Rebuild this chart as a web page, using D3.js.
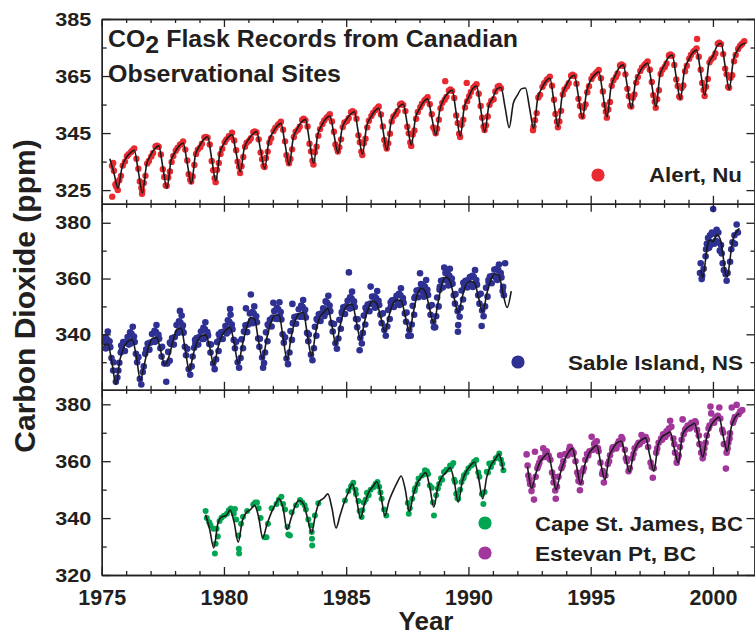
<!DOCTYPE html>
<html><head><meta charset="utf-8">
<script src="https://cdn.jsdelivr.net/npm/d3@7"></script>
<style>
body{margin:0;background:#fff}
text{font-family:"Liberation Sans",Arial,sans-serif;font-weight:bold;fill:#231f20}
</style>
</head><body>
<svg id="c" width="755" height="635"></svg>
<script>
// ---------------- data ----------------
const xMajorYears = [1975, 1980, 1985, 1990, 1995, 2000];
const xMinorYears = [1976,1977,1978,1979,1981,1982,1983,1984,1986,1987,1988,1989,1991,1992,1993,1994,1996,1997,1998,1999,2001];
const yTicksAlert = [325, 345, 365, 385];
const yMinorAlert = [335, 355, 375];
const yTicksSable = [340, 360, 380];
const yMinorSable = [330, 350, 370];
const yTicksPacific = [320, 340, 360, 380];
const yMinorPacific = [330, 350, 370];

// smoothed fits: first sample year, step (years), values (ppm)
const alertFitStart = 1975.333, alertFitStep = 1/6;
const alertFit = [
336.0,331.0,325.7,333.0,
336.4,338.0,339.0,331.5,324.0,333.9,
337.2,339.5,340.5,333.1,325.7,335.2,
338.3,340.5,341.5,334.4,327.3,337.3,
340.4,342.7,343.7,336.0,328.3,338.0,
341.3,343.5,344.5,338.0,331.4,339.8,
342.7,344.5,345.5,339.0,332.6,342.0,
345.2,347.4,348.4,341.1,333.8,343.2,
346.6,348.8,349.8,342.1,334.4,344.4,
347.7,350.0,351.0,344.5,337.9,346.7,
349.6,351.5,352.5,345.0,337.6,347.3,
350.5,352.7,353.7,346.3,339.0,348.7,
352.0,354.2,355.2,348.0,340.8,350.3,
353.6,356.0,357.0,350.6,344.3,353.3,
357.1,359.1,360.1,352.0,343.9,354.3,
357.4,360.5,361.5,353.5,345.5,354.5,
357.3,360.5,361.0,354.0,346.9,355.4,
358.2,360.5,360.8,353.8,346.6,357.2,
360.7,363.2,364.2,355.7,347.2,358.1,
361.7,364.3,365.3,357.8,350.2,359.6,
363.5,365.5,366.5,358.6,350.7,361.2,
365.1,367.9,368.9,361.3,353.7,363.0,
366.3,368.5,369.5,361.9,354.2,365.3,
368.6,371.4,372.4,364.6,356.9,367.0,
370.6,373.1,374.1,366.2,358.3,369.4,
372.0,375.5,376.5,368.4,360.3,370.5,
374.0,376.0,376.5];

const sableFitStart = 1975.083, sableFitStep = 1/6;
const sableFit = [
336.0,336.5,330.0,322.0,331.0,335.5,
337.5,338.2,332.0,323.5,329.5,335.5,
338.6,338.8,334.0,329.0,332.0,337.5,
341.8,342.2,334.5,327.0,333.0,337.5,
339.5,339.8,335.5,329.0,335.0,339.5,
341.5,342.5,337.0,329.5,336.0,342.0,
346.0,345.5,337.5,331.2,338.5,344.0,
346.8,347.0,339.0,330.8,339.0,345.0,
347.5,347.8,339.5,332.2,340.5,346.0,
347.8,349.3,343.0,336.3,343.0,348.5,
350.5,350.8,344.5,338.2,344.5,349.5,
352.0,351.0,346.0,341.0,346.5,351.0,
352.3,352.0,346.5,341.0,348.0,354.5,
356.5,355.0,349.0,344.0,351.0,358.0,
360.5,359.0,353.0,347.8,353.5,358.0,
359.0,358.5,353.0,348.0,354.5,359.5,
361.7,361.0,354.5,349.6,355.5];
const sableFit2Start = 1999.5, sableFit2Step = 1/12;
const sableFit2 = [363.0,360.4,364.5,370.5,373.5,373.8,373.2,374.5,375.8,375.0,373.0,368.0,362.5,360.6,364.5,370.5,374.4,376.0,377.2,378.0];

const capeFitStart = 1979.25, capeFitStep = 1/6;
const capeFit = [
341.2,336.0,329.5,338.0,340.5,
340.8,342.8,338.5,331.5,339.0,342.0,
343.0,344.5,340.5,333.0,337.5,341.5,
344.5,346.8,343.5,336.0,340.0,344.5,
346.2,345.0,340.0,334.8,341.5,346.0,
347.0,348.5,343.5,336.5,341.0,345.5,
349.0,352.0,347.0,340.0,345.0,349.0,
351.0,352.8,348.0,340.8,346.0,349.5,
352.5,354.8,350.0,342.3,348.5,352.5,
354.5,356.0,351.0,343.8,351.0,354.5,
356.0,357.8,353.0,345.6,353.0,356.5,
358.5,359.7,354.0,346.8,354.5,358.5,
360.5,362.5,357.0];

const estevanFitStart = 1992.417, estevanFitStep = 1/6;
const estevanFit = [
358.0,350.5,355.5,359.5,
361.5,362.8,357.0,350.0,355.5,360.0,
363.0,364.5,358.5,352.0,358.5,362.5,
364.5,365.5,359.0,353.5,361.5,364.5,
366.5,367.0,362.0,356.2,362.5,366.0,
367.5,368.2,362.0,356.5,365.5,368.5,
369.5,370.3,364.5,359.5,369.0,371.5,
372.5,373.3,367.5,361.5,368.5,372.5,
374.5,375.5,369.0,363.5,372.0,375.5,
376.8];

// flask observations [decimal year, ppm]
const alertObs = [
[1975.42,333.5],[1975.43,322.7],[1975.47,334.5],[1975.5,331.8],[1975.56,327.0],[1975.6,326.2],[1975.62,327.5],[1975.66,325.0],[1975.72,328.5],[1975.79,330.0],[1975.86,333.6],[1975.95,335.0],
[1976.03,336.9],[1976.1,337.6],[1976.2,338.4],[1976.26,338.9],[1976.33,339.6],[1976.42,336.0],[1976.5,332.5],[1976.56,328.0],[1976.62,325.8],[1976.65,323.7],[1976.66,324.8],[1976.72,327.5],[1976.79,330.0],[1976.86,334.3],[1976.93,335.2],
[1977.03,336.8],[1977.1,338.0],[1977.2,340.3],[1977.26,340.6],[1977.33,340.2],[1977.42,337.5],[1977.5,332.3],[1977.56,329.6],[1977.62,326.6],[1977.66,326.5],[1977.72,329.4],[1977.79,331.5],[1977.86,334.9],[1977.93,337.0],
[1978.03,338.8],[1978.1,339.8],[1978.2,340.9],[1978.26,341.2],[1978.33,342.1],[1978.42,339.2],[1978.5,335.4],[1978.56,330.6],[1978.62,328.6],[1978.66,328.0],[1978.72,329.8],[1978.79,333.8],[1978.86,337.7],[1978.93,339.2],
[1979.03,340.0],[1979.1,341.3],[1979.2,343.5],[1979.26,343.6],[1979.33,343.4],[1979.42,341.0],[1979.5,335.2],[1979.56,332.0],[1979.62,329.2],[1979.66,327.8],[1979.72,332.1],[1979.79,334.5],[1979.86,337.7],[1979.93,339.5],
[1980.03,341.8],[1980.1,342.8],[1980.2,343.9],[1980.26,343.7],[1980.33,345.1],[1980.42,342.4],[1980.5,339.0],[1980.56,335.0],[1980.62,333.2],[1980.66,331.0],[1980.72,333.4],[1980.79,336.6],[1980.86,340.2],[1980.93,341.6],
[1981.03,342.3],[1981.1,343.2],[1981.2,345.3],[1981.26,345.6],[1981.33,345.2],[1981.42,342.8],[1981.5,338.2],[1981.56,335.8],[1981.62,333.5],[1981.66,333.1],[1981.72,336.3],[1981.79,338.5],[1981.86,341.7],[1981.93,343.2],
[1982.03,345.7],[1982.1,346.8],[1982.2,347.8],[1982.26,348.3],[1982.33,349.0],[1982.42,346.2],[1982.5,342.1],[1982.56,337.2],[1982.62,335.6],[1982.66,334.4],[1982.72,335.9],[1982.79,339.3],[1982.86,343.6],[1982.93,345.5],
[1983.03,346.2],[1983.1,347.2],[1983.2,349.6],[1983.26,350.0],[1983.33,349.5],[1983.42,347.3],[1983.5,341.3],[1983.56,338.6],[1983.62,335.3],[1983.66,334.0],[1983.72,338.3],[1983.79,340.2],[1983.86,344.1],[1983.93,346.4],
[1984.03,348.2],[1984.1,349.4],[1984.2,350.4],[1984.26,350.8],[1984.33,351.6],[1984.42,349.1],[1984.5,345.5],[1984.56,341.0],[1984.62,339.7],[1984.66,338.5],[1984.72,340.0],[1984.79,342.8],[1984.86,347.1],[1984.93,348.7],
[1985.03,349.2],[1985.1,350.2],[1985.2,352.3],[1985.26,352.7],[1985.33,352.2],[1985.42,350.0],[1985.5,344.2],[1985.56,341.8],[1985.62,338.5],[1985.66,337.3],[1985.72,341.4],[1985.79,343.0],[1985.86,347.0],[1985.93,349.3],
[1986.03,351.0],[1986.1,352.1],[1986.2,353.1],[1986.26,353.6],[1986.33,354.3],[1986.42,351.5],[1986.5,347.3],[1986.56,342.6],[1986.62,340.8],[1986.66,339.6],[1986.72,341.4],[1986.79,344.8],[1986.86,349.1],[1986.93,350.8],
[1987.03,351.6],[1987.1,352.7],[1987.2,355.0],[1987.26,355.4],[1987.33,354.9],[1987.42,352.7],[1987.5,347.2],[1987.56,344.9],[1987.62,341.7],[1987.66,340.5],[1987.72,344.5],[1987.79,345.9],[1987.86,350.0],[1987.93,352.4],
[1988.03,354.1],[1988.1,355.3],[1988.2,356.4],[1988.26,356.9],[1988.33,357.6],[1988.42,355.1],[1988.5,351.6],[1988.56,347.0],[1988.62,346.1],[1988.66,344.9],[1988.72,346.5],[1988.79,349.7],[1988.86,353.7],[1988.93,355.6],
[1989.03,356.7],[1989.05,363.2],[1989.1,357.7],[1989.2,359.9],[1989.26,360.3],[1989.33,359.8],[1989.42,357.3],[1989.5,351.2],[1989.56,348.5],[1989.62,344.8],[1989.66,343.6],[1989.72,347.9],[1989.79,349.7],[1989.86,354.0],[1989.93,362.6],[1989.95,356.2],
[1990.03,357.9],[1990.1,359.4],[1990.2,360.9],[1990.26,361.4],[1990.33,362.1],[1990.42,358.8],[1990.5,354.5],[1990.56,350.4],[1990.62,347.3],[1990.66,346.1],[1990.72,347.7],[1990.79,350.8],[1990.86,354.9],[1990.93,356.3],
[1991.03,356.9],[1991.1,359.6],[1991.2,361.3],[1991.26,361.5],[1991.33,360.7],
[1992.64,346.0],[1992.66,347.2],[1992.72,349.5],[1992.79,352.0],[1992.86,357.5],[1992.93,358.4],
[1993.03,361.2],[1993.1,362.5],[1993.2,363.6],[1993.26,364.1],[1993.33,364.8],[1993.42,361.6],[1993.5,356.7],[1993.56,351.7],[1993.62,349.0],[1993.66,347.0],[1993.72,349.1],[1993.79,352.8],[1993.86,358.5],[1993.93,360.3],
[1994.03,361.3],[1994.1,362.5],[1994.2,365.1],[1994.26,365.5],[1994.33,365.0],[1994.42,362.3],[1994.5,357.0],[1994.56,354.5],[1994.62,351.1],[1994.66,350.8],[1994.72,353.9],[1994.79,355.0],[1994.86,359.3],[1994.93,361.4],
[1995.03,364.0],[1995.1,365.1],[1995.2,365.9],[1995.26,366.4],[1995.33,367.1],[1995.42,364.2],[1995.5,359.6],[1995.56,354.9],[1995.62,352.5],[1995.66,350.4],[1995.72,353.3],[1995.79,355.9],[1995.86,361.6],[1995.93,363.5],
[1996.03,364.7],[1996.1,365.9],[1996.2,368.7],[1996.26,369.1],[1996.33,368.6],[1996.42,365.6],[1996.5,360.5],[1996.56,357.9],[1996.62,354.6],[1996.66,354.3],[1996.72,357.4],[1996.79,358.5],[1996.86,362.7],[1996.93,364.7],
[1997.03,366.8],[1997.1,368.0],[1997.2,368.9],[1997.26,369.4],[1997.33,370.1],[1997.42,367.2],[1997.5,362.9],[1997.56,358.3],[1997.62,356.0],[1997.66,353.9],[1997.72,356.9],[1997.79,360.0],[1997.86,365.7],[1997.93,367.2],
[1998.03,368.2],[1998.1,369.4],[1998.2,372.2],[1998.26,372.6],[1998.33,372.1],[1998.42,368.9],[1998.5,363.8],[1998.56,361.5],[1998.62,357.8],[1998.66,357.5],[1998.72,360.8],[1998.79,361.7],[1998.86,366.7],[1998.93,368.6],
[1999.03,371.1],[1999.1,372.4],[1999.2,373.5],[1999.26,374.0],[1999.33,374.7],[1999.35,378.0],[1999.42,371.8],[1999.5,367.2],[1999.56,362.6],[1999.62,360.1],[1999.66,358.0],[1999.72,361.2],[1999.79,364.0],[1999.86,369.8],[1999.93,370.9],
[2000.03,371.6],[2000.1,372.9],[2000.2,376.3],[2000.26,376.7],[2000.33,376.2],[2000.42,372.7],[2000.5,367.6],[2000.56,365.6],[2000.62,361.2],[2000.66,360.9],[2000.72,364.4],[2000.79,365.3],[2000.86,370.2],[2000.93,372.4],
[2001.03,374.5],[2001.1,375.5],[2001.16,376.0],[2001.2,376.4],[2001.28,377.2]];

const sableObs = [
[1975.1,337.3],[1975.16,339.0],[1975.16,335.0],[1975.18,335.0],[1975.22,338.2],[1975.25,341.0],[1975.3,335.5],[1975.32,337.5],[1975.35,335.4],[1975.4,331.5],[1975.47,327.0],[1975.48,330.0],[1975.58,323.0],[1975.64,324.5],[1975.68,327.0],[1975.72,329.8],[1975.78,333.5],[1975.8,336.0],[1975.83,334.5],[1975.88,337.2],[1975.95,334.0],[1975.99,337.0],
[1976.06,339.0],[1976.11,336.3],[1976.16,340.7],[1976.18,336.7],[1976.22,340.2],[1976.27,342.7],[1976.28,337.7],[1976.32,339.2],[1976.35,337.2],[1976.4,333.0],[1976.45,330.0],[1976.5,331.8],[1976.56,324.0],[1976.62,322.0],[1976.68,326.5],[1976.72,328.5],[1976.78,333.0],[1976.82,334.5],[1976.83,334.5],[1976.88,336.7],[1976.95,334.5],[1976.99,337.0],
[1977.06,340.1],[1977.11,337.4],[1977.16,341.3],[1977.18,337.3],[1977.22,340.8],[1977.24,343.3],[1977.28,338.3],[1977.32,339.8],[1977.35,338.4],[1977.4,335.0],[1977.45,332.0],[1977.47,335.5],[1977.56,329.5],[1977.64,323.0],[1977.68,329.5],[1977.72,333.7],[1977.78,330.5],[1977.79,337.0],[1977.83,336.5],[1977.88,338.7],[1977.95,336.3],[1977.99,339.0],
[1978.06,343.3],[1978.11,340.6],[1978.16,344.7],[1978.18,340.7],[1978.2,348.4],[1978.22,344.2],[1978.27,346.7],[1978.28,341.7],[1978.32,343.2],[1978.35,340.6],[1978.4,335.5],[1978.45,332.5],[1978.5,334.8],[1978.56,327.5],[1978.62,325.5],[1978.68,328.5],[1978.72,332.0],[1978.78,335.2],[1978.82,338.0],[1978.83,336.5],[1978.88,338.7],[1978.95,336.3],[1978.99,339.0],
[1979.06,341.0],[1979.11,338.3],[1979.16,342.3],[1979.18,338.3],[1979.22,341.8],[1979.24,344.3],[1979.28,339.3],[1979.32,340.8],[1979.35,339.6],[1979.4,336.5],[1979.45,333.5],[1979.47,336.3],[1979.56,329.5],[1979.62,327.5],[1979.68,331.0],[1979.72,337.2],[1979.78,334.0],[1979.79,340.0],[1979.83,338.5],[1979.88,340.7],[1979.95,338.3],[1979.99,341.0],
[1980.06,343.0],[1980.11,340.3],[1980.16,345.0],[1980.18,341.0],[1980.22,344.5],[1980.25,349.1],[1980.27,347.0],[1980.28,342.0],[1980.32,343.5],[1980.35,341.8],[1980.4,338.0],[1980.45,335.0],[1980.5,337.3],[1980.56,330.0],[1980.62,328.0],[1980.68,331.5],[1980.72,338.2],[1980.78,335.0],[1980.82,341.0],[1980.83,341.0],[1980.88,343.2],[1980.9,349.3],[1980.95,340.8],[1980.99,343.5],
[1981.06,347.5],[1981.1,354.3],[1981.11,344.8],[1981.16,348.0],[1981.18,344.0],[1981.22,347.5],[1981.24,350.0],[1981.28,345.0],[1981.32,346.5],[1981.35,344.3],[1981.4,338.5],[1981.45,335.5],[1981.47,338.4],[1981.56,331.7],[1981.6,328.0],[1981.64,329.7],[1981.68,333.5],[1981.72,340.7],[1981.78,337.5],[1981.79,343.5],[1981.83,343.0],[1981.88,345.2],[1981.95,342.8],[1981.99,346.0],
[1982.02,351.3],[1982.06,348.3],[1982.11,345.6],[1982.16,349.5],[1982.18,345.5],[1982.22,349.0],[1982.27,351.5],[1982.28,346.5],[1982.32,348.0],[1982.35,345.3],[1982.4,340.0],[1982.45,337.0],[1982.5,338.9],[1982.56,331.3],[1982.62,329.3],[1982.68,333.5],[1982.72,341.2],[1982.78,338.0],[1982.8,350.9],[1982.82,344.0],[1982.83,344.0],[1982.88,346.2],[1982.95,343.8],[1982.99,346.5],
[1983.06,349.0],[1983.11,346.3],[1983.16,350.3],[1983.18,346.3],[1983.22,349.8],[1983.24,352.3],[1983.28,347.3],[1983.32,348.8],[1983.35,346.0],[1983.4,340.5],[1983.45,337.5],[1983.47,339.9],[1983.56,332.7],[1983.62,330.7],[1983.68,335.0],[1983.72,342.7],[1983.78,339.5],[1983.79,345.5],[1983.83,345.0],[1983.88,347.2],[1983.95,344.8],[1983.99,347.5],
[1984.06,349.3],[1984.11,346.6],[1984.16,351.8],[1984.18,347.8],[1984.22,351.3],[1984.27,353.8],[1984.28,348.8],[1984.32,350.3],[1984.35,348.3],[1984.4,344.0],[1984.45,341.0],[1984.5,343.7],[1984.56,336.8],[1984.62,334.8],[1984.68,338.5],[1984.72,345.2],[1984.78,342.0],[1984.82,348.0],[1984.83,347.5],[1984.88,349.7],[1984.95,347.3],[1984.99,350.0],
[1985.06,352.0],[1985.11,362.2],[1985.13,349.3],[1985.16,353.3],[1985.18,349.3],[1985.22,352.8],[1985.24,355.3],[1985.28,350.3],[1985.32,351.8],[1985.35,349.8],[1985.4,345.5],[1985.45,342.5],[1985.47,345.4],[1985.55,334.3],[1985.58,338.7],[1985.64,336.7],[1985.68,340.5],[1985.72,346.7],[1985.78,343.5],[1985.79,349.5],[1985.83,348.5],[1985.88,350.7],[1985.95,348.3],[1985.99,351.0],
[1986.0,357.1],[1986.06,353.5],[1986.11,350.8],[1986.16,353.5],[1986.18,349.5],[1986.22,353.0],[1986.27,355.5],[1986.28,350.5],[1986.32,352.0],[1986.35,350.5],[1986.4,347.0],[1986.45,344.0],[1986.5,347.5],[1986.56,341.5],[1986.62,339.5],[1986.68,342.8],[1986.72,348.7],[1986.78,345.5],[1986.82,351.5],[1986.83,350.0],[1986.88,352.2],[1986.95,349.8],[1986.99,352.5],
[1987.06,353.8],[1987.11,351.1],[1987.16,354.5],[1987.18,350.5],[1987.22,354.0],[1987.24,356.5],[1987.28,351.5],[1987.32,353.0],[1987.35,351.3],[1987.4,347.5],[1987.45,344.5],[1987.47,347.8],[1987.54,339.4],[1987.58,341.5],[1987.64,339.5],[1987.68,343.5],[1987.72,350.2],[1987.78,347.0],[1987.79,353.0],[1987.83,353.5],[1987.88,355.7],[1987.95,353.3],[1987.99,356.0],
[1988.02,361.9],[1988.06,358.0],[1988.11,355.3],[1988.16,357.5],[1988.18,353.5],[1988.22,357.0],[1988.27,359.5],[1988.28,354.5],[1988.32,356.0],[1988.35,354.1],[1988.4,350.0],[1988.45,347.0],[1988.5,350.5],[1988.56,344.5],[1988.59,342.5],[1988.64,342.5],[1988.68,346.5],[1988.72,353.2],[1988.78,350.0],[1988.82,356.0],[1988.83,357.0],[1988.88,359.2],[1988.95,356.8],[1988.99,359.5],
[1989.01,363.9],[1989.06,362.0],[1989.11,359.3],[1989.16,361.5],[1989.18,357.5],[1989.22,361.0],[1989.24,363.5],[1989.28,358.5],[1989.32,360.0],[1989.35,358.1],[1989.4,354.0],[1989.45,351.0],[1989.47,354.4],[1989.56,348.3],[1989.57,340.9],[1989.58,343.3],[1989.64,346.3],[1989.68,349.5],[1989.72,355.7],[1989.78,352.5],[1989.79,358.5],[1989.83,357.0],[1989.88,359.2],[1989.95,356.8],[1989.99,359.5],
[1990.06,360.5],[1990.11,357.8],[1990.16,361.0],[1990.18,357.0],[1990.22,360.5],[1990.27,363.0],[1990.28,358.0],[1990.32,359.5],[1990.35,357.8],[1990.4,354.0],[1990.45,351.0],[1990.5,354.5],[1990.54,343.0],[1990.56,348.5],[1990.62,346.5],[1990.68,350.0],[1990.72,356.7],[1990.78,353.5],[1990.82,359.5],[1990.83,358.5],[1990.88,360.7],[1990.95,358.3],[1990.99,361.0],
[1991.06,363.2],[1991.11,360.5],[1991.16,363.5],[1991.18,359.5],[1991.22,363.0],[1991.25,365.0],[1991.28,360.5],[1991.32,362.0],[1991.35,360.4],[1991.4,355.5],[1991.42,357.0],[1991.45,354.0],[1991.5,365.5],
[1999.47,362.0],[1999.5,365.5],[1999.54,359.8],[1999.56,361.0],[1999.62,363.5],[1999.7,368.0],[1999.72,370.5],[1999.75,372.5],[1999.8,374.5],[1999.84,371.0],[1999.88,375.5],[1999.9,372.0],[1999.92,373.0],[1999.96,376.5],
[2000.01,384.9],[2000.05,372.5],[2000.1,376.0],[2000.12,373.5],[2000.15,377.5],[2000.2,373.0],[2000.22,376.5],[2000.28,370.0],[2000.33,372.0],[2000.36,369.0],[2000.4,365.5],[2000.45,363.0],[2000.52,361.5],[2000.56,359.2],[2000.6,362.0],[2000.7,366.0],[2000.75,370.5],[2000.8,373.0],[2000.88,375.5],[2000.9,372.5],[2000.97,379.4],[2001.02,376.5]];

const capeObs = [
[1979.25,342.5],[1979.3,340.0],[1979.4,338.5],[1979.45,337.5],[1979.57,336.3],[1979.63,327.6],[1979.66,331.0],[1979.7,336.3],[1979.75,333.5],[1979.82,339.0],[1979.9,340.1],
[1980.0,340.8],[1980.12,341.5],[1980.2,342.8],[1980.28,343.4],[1980.4,341.5],[1980.45,343.2],[1980.5,339.5],[1980.59,333.9],[1980.61,329.2],[1980.62,327.6],[1980.7,338.0],[1980.78,340.5],[1980.95,342.5],
[1981.2,344.8],[1981.28,345.5],[1981.35,345.5],[1981.42,343.5],[1981.5,340.0],[1981.66,333.3],[1981.74,333.3],[1981.8,338.0],[1981.95,343.5],
[1982.15,345.0],[1982.25,346.5],[1982.35,347.5],[1982.42,345.0],[1982.5,343.0],[1982.6,337.0],[1982.63,334.2],[1982.7,333.9],[1982.77,342.1],[1982.95,344.5],
[1983.11,346.4],[1983.2,345.5],[1983.3,344.5],[1983.35,343.0],[1983.45,339.5],[1983.57,337.4],[1983.59,335.1],[1983.6,332.7],[1983.61,330.4],[1983.72,340.9],[1983.86,345.2],
[1984.95,346.2],[1985.09,349.5],[1985.2,351.0],[1985.22,351.5],[1985.29,352.4],[1985.38,350.0],[1985.4,348.5],[1985.5,346.0],[1985.55,342.5],[1985.63,340.4],[1985.66,342.8],[1985.72,345.5],[1985.8,346.5],[1985.85,348.9],[1985.92,348.0],
[1986.0,350.0],[1986.13,350.9],[1986.2,352.0],[1986.28,352.7],[1986.35,351.0],[1986.4,349.0],[1986.45,346.8],[1986.55,343.0],[1986.64,340.9],
[1987.52,345.3],[1987.56,341.5],[1987.6,343.5],[1987.7,346.8],[1987.8,349.5],[1987.82,350.5],[1987.92,352.0],[1987.96,353.9],
[1988.1,355.0],[1988.2,355.5],[1988.22,356.8],[1988.3,356.5],[1988.35,355.5],[1988.42,351.5],[1988.5,350.7],[1988.55,345.5],[1988.59,340.9],[1988.68,348.0],[1988.75,350.4],[1988.8,352.0],[1988.88,354.0],[1988.92,353.5],
[1989.0,356.2],[1989.1,357.0],[1989.2,357.2],[1989.25,358.5],[1989.3,358.2],[1989.38,359.4],[1989.42,353.5],[1989.45,352.7],[1989.5,348.6],[1989.55,347.0],[1989.58,346.8],[1989.66,350.0],[1989.72,352.7],[1989.8,354.0],[1989.82,355.1],[1989.92,356.0],
[1990.0,357.5],[1990.12,358.5],[1990.2,359.0],[1990.23,359.8],[1990.32,360.4],[1990.4,356.0],[1990.45,354.5],[1990.55,348.5],[1990.61,345.0],[1990.66,349.2],[1990.75,356.3],[1990.8,356.0],[1990.85,359.2],[1990.92,358.0],
[1991.0,359.5],[1991.12,361.0],[1991.2,361.5],[1991.26,362.7],[1991.33,360.5],[1991.38,359.0],[1991.43,356.8]];

const estevanObs = [
[1992.38,362.4],[1992.42,358.5],[1992.45,355.0],[1992.5,353.5],[1992.52,352.0],[1992.58,349.5],[1992.62,351.5],[1992.68,346.5],[1992.72,363.3],[1992.75,354.5],[1992.82,357.5],[1992.86,358.5],[1992.9,359.5],[1992.96,361.0],
[1993.06,364.5],[1993.12,361.5],[1993.15,363.0],[1993.2,363.5],[1993.28,362.0],[1993.3,361.0],[1993.35,360.5],[1993.42,356.0],[1993.48,352.5],[1993.5,354.5],[1993.55,349.7],[1993.57,346.8],[1993.62,351.0],[1993.68,354.5],[1993.75,362.1],[1993.8,357.5],[1993.85,358.5],[1993.88,360.0],[1993.95,362.5],
[1994.05,362.0],[1994.12,364.0],[1994.15,365.1],[1994.22,364.0],[1994.28,362.5],[1994.3,363.0],[1994.38,360.0],[1994.45,356.0],[1994.5,353.0],[1994.5,355.0],[1994.56,349.8],[1994.6,352.5],[1994.68,356.5],[1994.72,357.5],[1994.78,360.5],[1994.85,362.5],[1994.9,362.0],[1994.95,363.5],
[1995.04,368.6],[1995.1,364.0],[1995.14,366.0],[1995.18,366.5],[1995.25,367.0],[1995.3,364.5],[1995.32,363.5],[1995.4,359.5],[1995.47,355.5],[1995.5,356.5],[1995.54,352.5],[1995.6,355.0],[1995.7,359.0],[1995.75,360.0],[1995.79,362.1],[1995.88,364.0],[1995.9,364.8],[1995.95,365.0],
[1996.05,364.5],[1996.1,366.0],[1996.15,367.0],[1996.22,366.0],[1996.26,368.5],[1996.3,367.8],[1996.4,364.0],[1996.44,361.0],[1996.48,360.0],[1996.55,356.5],[1996.6,357.5],[1996.7,361.0],[1996.75,362.5],[1996.8,364.5],[1996.9,365.5],[1996.96,366.5],
[1997.0,366.0],[1997.08,369.2],[1997.12,367.0],[1997.15,368.0],[1997.25,368.5],[1997.3,367.5],[1997.35,365.0],[1997.45,359.5],[1997.5,358.0],[1997.54,354.2],[1997.58,357.5],[1997.68,363.0],[1997.72,364.5],[1997.78,366.5],[1997.88,368.0],[1997.92,367.5],[1997.96,369.5],
[1998.05,368.5],[1998.1,370.5],[1998.15,369.5],[1998.2,371.5],[1998.25,374.2],[1998.3,372.1],[1998.38,368.0],[1998.42,366.0],[1998.45,363.0],[1998.52,359.5],[1998.56,361.0],[1998.6,362.0],[1998.65,365.0],[1998.72,367.5],[1998.76,374.7],[1998.8,369.5],[1998.86,371.0],[1998.9,371.5],[1998.97,372.5],
[1999.05,371.5],[1999.1,372.0],[1999.12,373.5],[1999.2,373.0],[1999.27,374.0],[1999.3,373.5],[1999.35,371.0],[1999.42,369.0],[1999.45,366.0],[1999.52,363.0],[1999.58,361.0],[1999.62,362.5],[1999.65,364.5],[1999.7,366.5],[1999.75,369.0],[1999.82,371.5],[1999.86,372.5],[1999.9,379.2],[1999.93,376.8],[1999.98,374.0],
[2000.05,373.5],[2000.1,375.0],[2000.15,375.5],[2000.2,376.0],[2000.26,378.9],[2000.3,375.0],[2000.38,371.0],[2000.42,370.0],[2000.45,366.0],[2000.53,357.4],[2000.56,363.0],[2000.6,364.5],[2000.63,366.5],[2000.68,368.0],[2000.7,369.8],[2000.77,378.9],[2000.82,373.5],[2000.86,374.5],[2000.9,375.5],[2000.97,379.8],
[2001.05,376.5],[2001.12,377.5],[2001.2,378.0]];

const legendLabels = ["Alert, Nu", "Sable Island, NS", "Cape St. James, BC", "Estevan Pt, BC"];
const colors = {alert:"#e92a30", sable:"#2e3192", cape:"#00a551", estevan:"#a2379b"};

// ---------------- drawing ----------------
const svg = d3.select("#c");
const L = 101.7, R = 754.5;
const ink = "#231f20";
const x = d3.scaleLinear().domain([1975, 2001.7]).range([L, R]);

const fitPts = (start, step, vals) => vals.map((v, i) => [start + i * step, v]);

const panels = [
  {top: 19, bottom: 203.8, domain: [320.2, 385], major: yTicksAlert, minor: yMinorAlert,
   series: [{obs: alertObs, color: colors.alert, r: 3.2}],
   fits: [fitPts(alertFitStart, alertFitStep, alertFit)]},
  {top: 203.8, bottom: 389.8, domain: [320.1, 386.8], major: yTicksSable, minor: yMinorSable,
   series: [{obs: sableObs, color: colors.sable, r: 3.3}],
   fits: [fitPts(sableFitStart, sableFitStep, sableFit), fitPts(sableFit2Start, sableFit2Step, sableFit2)]},
  {top: 389.8, bottom: 575, domain: [320, 385.1], major: yTicksPacific, minor: yMinorPacific,
   series: [{obs: capeObs, color: colors.cape, r: 3.0}, {obs: estevanObs, color: colors.estevan, r: 3.3}],
   fits: [fitPts(capeFitStart, capeFitStep, capeFit), fitPts(estevanFitStart, estevanFitStep, estevanFit)]}
];

panels.forEach((p, pi) => {
  const y = d3.scaleLinear().domain(p.domain).range([p.bottom, p.top]);
  const clipId = "clip" + pi;
  svg.append("clipPath").attr("id", clipId).append("rect")
    .attr("x", L).attr("y", p.top).attr("width", R - L).attr("height", p.bottom - p.top);
  const g = svg.append("g").attr("clip-path", `url(#${clipId})`);
  p.series.forEach(s => {
    g.append("g").selectAll("circle").data(s.obs).join("circle")
      .attr("cx", d => x(d[0])).attr("cy", d => y(d[1])).attr("r", s.r).attr("fill", s.color);
  });
  const line = d3.line().x(d => x(d[0])).y(d => y(d[1])).curve(d3.curveMonotoneX);
  p.fits.forEach(f => {
    g.append("path").datum(f).attr("d", line).attr("fill", "none")
      .attr("stroke", "#1a1a1a").attr("stroke-width", 1.6).attr("stroke-linejoin", "round");
  });

  const ax = (gen, tr) => {
    const a = svg.append("g").attr("transform", tr).call(gen);
    a.selectAll("path,line").attr("stroke", ink).attr("stroke-width", 1.3);
    return a;
  };
  const la = ax(d3.axisLeft(y).tickValues(p.major).tickSize(-9).tickSizeOuter(0).tickPadding(10.5).tickFormat(d3.format("d")), `translate(${L},0)`);
  la.selectAll("text").style("font-size", "19px").attr("textLength", 36).attr("lengthAdjust", "spacingAndGlyphs");
  ax(d3.axisLeft(y).tickValues(p.minor).tickSize(-5).tickSizeOuter(0).tickFormat(""), `translate(${L},0)`);
  ax(d3.axisRight(y).tickValues(p.major).tickSize(-8).tickSizeOuter(0).tickFormat(""), `translate(${R},0)`);
  ax(d3.axisRight(y).tickValues(p.minor).tickSize(-4).tickSizeOuter(0).tickFormat(""), `translate(${R},0)`);
  ax(d3.axisTop(x).tickValues(xMajorYears).tickSize(-8).tickSizeOuter(0).tickFormat(""), `translate(0,${p.top})`);
  ax(d3.axisTop(x).tickValues(xMinorYears).tickSize(-4).tickSizeOuter(0).tickFormat(""), `translate(0,${p.top})`);
  const ba = ax(d3.axisBottom(x).tickValues(xMajorYears).tickSize(-8).tickSizeOuter(0).tickPadding(15)
    .tickFormat(pi === 2 ? d3.format("d") : ""), `translate(0,${p.bottom})`);
  ba.selectAll("text").style("font-size", "21.5px");
  ax(d3.axisBottom(x).tickValues(xMinorYears).tickSize(-4).tickSizeOuter(0).tickFormat(""), `translate(0,${p.bottom})`);
});

// title
const t1 = svg.append("text").attr("x", 108).attr("y", 47).style("font-size", "23px");
t1.append("tspan").text("CO");
t1.append("tspan").attr("dy", 6).text("2");
t1.append("tspan").attr("dy", -6).text(" Flask Records from Canadian");
t1.attr("textLength", 410).attr("lengthAdjust", "spacingAndGlyphs");
svg.append("text").attr("x", 108).attr("y", 81.5).style("font-size", "23px")
  .attr("textLength", 233).attr("lengthAdjust", "spacingAndGlyphs").text("Observational Sites");

// legends
const legends = [
  {label: legendLabels[0], color: colors.alert, cx: 598, cy: 175, tx: 649, ty: 182, w: 93},
  {label: legendLabels[1], color: colors.sable, cx: 518, cy: 362, tx: 568, ty: 370, w: 175},
  {label: legendLabels[2], color: colors.cape, cx: 485, cy: 523, tx: 535, ty: 531, w: 208},
  {label: legendLabels[3], color: colors.estevan, cx: 485, cy: 553, tx: 535, ty: 561, w: 161}
];
legends.forEach(l => {
  svg.append("circle").attr("cx", l.cx).attr("cy", l.cy).attr("r", 6.6).attr("fill", l.color);
  svg.append("text").attr("x", l.tx).attr("y", l.ty).style("font-size", "21px")
    .attr("textLength", l.w).attr("lengthAdjust", "spacingAndGlyphs").text(l.label);
});

// axis titles
svg.append("text").attr("transform", "translate(35,296) rotate(-90)").attr("text-anchor", "middle")
  .style("font-size", "30px").text("Carbon Dioxide (ppm)");
svg.append("text").attr("x", 426).attr("y", 630).attr("text-anchor", "middle")
  .style("font-size", "26px").text("Year");
</script>
</body></html>
